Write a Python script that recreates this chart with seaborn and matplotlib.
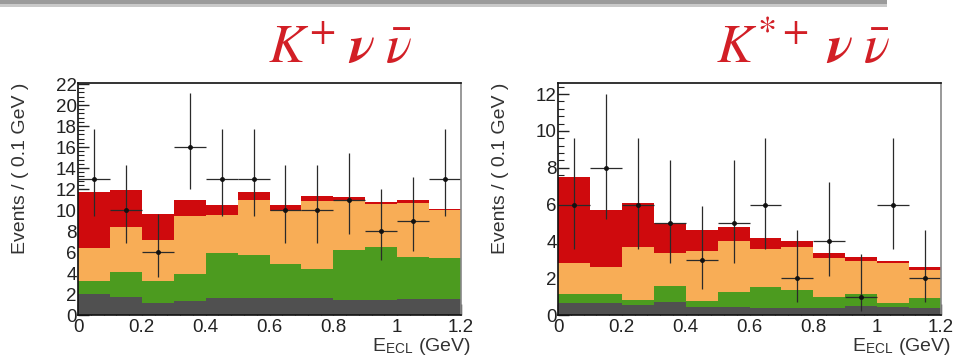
import numpy as np
import pandas as pd
import matplotlib
matplotlib.use("Agg")
import matplotlib.pyplot as plt
from matplotlib.patches import Rectangle
from matplotlib.ticker import MultipleLocator, AutoMinorLocator, FixedLocator
import seaborn as sns

# Binning of the E_ECL distribution (GeV)
bin_edges = [0.0, 0.1, 0.2, 0.3, 0.4, 0.5, 0.6, 0.7, 0.8, 0.9, 1.0, 1.1, 1.2]
components = ["other", "green", "orange", "red"]
component_colors = {"other": "#505050", "green": "#4c9b1f",
                    "orange": "#f8ad56", "red": "#cf0a0d"}

# K+ nu nubar channel: stacked expectations per 0.1 GeV bin
kp_other = [2.0, 1.7, 1.1, 1.3, 1.6, 1.6, 1.6, 1.6, 1.45, 1.4, 1.5, 1.5]
kp_green = [1.2, 2.4, 2.1, 2.6, 4.3, 4.1, 3.3, 2.75, 4.75, 5.1, 4.0, 3.9]
kp_orange = [3.2, 4.3, 3.9, 5.5, 3.6, 5.25, 5.0, 6.55, 4.7, 4.05, 5.2, 4.6]
kp_red = [5.3, 3.5, 2.5, 1.6, 1.0, 0.75, 0.6, 0.4, 0.3, 0.25, 0.25, 0.1]
kp_data = [13, 10, 6, 16, 13, 13, 10, 10, 11, 8, 9, 13]
kp_err_lo = [3.6, 3.1, 2.4, 4.0, 3.6, 3.6, 3.1, 3.1, 3.3, 2.8, 2.9, 3.6]
kp_err_hi = [4.7, 4.3, 3.6, 5.1, 4.7, 4.7, 4.3, 4.3, 4.4, 4.0, 4.1, 4.7]

# K*+ nu nubar channel
ks_other = [0.63, 0.63, 0.54, 0.72, 0.42, 0.45, 0.4, 0.4, 0.4, 0.5, 0.42, 0.4]
ks_green = [0.51, 0.51, 0.26, 0.88, 0.34, 0.82, 1.14, 0.96, 0.6, 0.64, 0.21, 0.54]
ks_orange = [1.7, 1.46, 2.87, 1.75, 2.74, 2.73, 2.06, 2.34, 2.08, 1.81, 2.21, 1.5]
ks_red = [4.66, 3.1, 2.39, 1.65, 1.1, 0.76, 0.56, 0.33, 0.3, 0.22, 0.11, 0.15]
ks_data = [6, 8, 6, 5, 3, 5, 6, 2, 4, 1, 6, 2]
ks_err_lo = [2.4, 2.8, 2.4, 2.2, 1.6, 2.2, 2.4, 1.3, 1.9, 0.8, 2.4, 1.3]
ks_err_hi = [3.6, 4.0, 3.6, 3.4, 2.9, 3.4, 3.6, 2.6, 3.2, 2.3, 3.6, 2.6]

x_ticks = [0.0, 0.2, 0.4, 0.6, 0.8, 1.0, 1.2]
x_tick_labels = ["0", "0.2", "0.4", "0.6", "0.8", "1", "1.2"]

sns.set_theme(style="white")
plt.rcParams["font.family"] = ["Liberation Sans", "DejaVu Sans"]
plt.rcParams["mathtext.fontset"] = "stix"

fig = plt.figure(figsize=(9.57, 3.58), dpi=100)


def draw_panel(ax, layers, data, lo, hi, ymax, title, title_x):
    centers = [(a + b) / 2 for a, b in zip(bin_edges[:-1], bin_edges[1:])]
    frames = []
    for name, vals in zip(components, layers):
        frames.append(pd.DataFrame({"E": centers, "w": vals, "comp": name}))
    df = pd.concat(frames, ignore_index=True)
    # seaborn puts the first hue level on top of the stack
    sns.histplot(data=df, x="E", weights="w", hue="comp",
                 hue_order=components[::-1], palette=component_colors,
                 bins=bin_edges, multiple="stack", element="step",
                 fill=True, alpha=1.0, linewidth=0, legend=False, ax=ax)
    ax.errorbar(centers, data, xerr=0.05, yerr=[lo, hi], fmt="o",
                color="#111111", ecolor="#2a2a2a", markersize=2.5,
                elinewidth=0.9, capsize=0)
    ax.set_xlim(0, 1.2)
    ax.set_ylim(0, ymax)
    ax.xaxis.set_major_locator(FixedLocator(x_ticks))
    ax.set_xticklabels(x_tick_labels)
    ax.xaxis.set_minor_locator(AutoMinorLocator(5))
    ax.yaxis.set_major_locator(MultipleLocator(2))
    ax.yaxis.set_minor_locator(AutoMinorLocator(5))
    ax.tick_params(axis="both", which="both", direction="in",
                   left=True, bottom=True, top=False, right=False,
                   labelsize=13.5, colors="#222222")
    ax.tick_params(axis="y", pad=1)
    ax.tick_params(axis="x", pad=3)
    ax.tick_params(which="major", length=8, width=1.0)
    ax.tick_params(which="minor", length=4, width=0.8)
    for sp in ax.spines.values():
        sp.set_color("#111111")
        sp.set_linewidth(1.2)
    ax.spines["right"].set_color("#888888")
    ax.set_ylabel("Events / ( 0.1 GeV )", loc="top", fontsize=14,
                  color="#333333", labelpad=19)
    ax.set_xlabel(r"E$_{\mathregular{ECL}}$ (GeV)", loc="right", fontsize=14,
                  color="#333333", labelpad=0)
    ax.xaxis.set_label_coords(1.025, -0.092, transform=ax.transAxes)
    fig.text(title_x, 1 - 63 / 358,
             title, ha="center", va="baseline",
             fontsize=39, color="#d21f26")


ax1 = fig.add_axes([78 / 957, 43 / 358, 383 / 957, 232 / 358])
draw_panel(ax1, [kp_other, kp_green, kp_orange, kp_red], kp_data,
           kp_err_lo, kp_err_hi, 22.1,
           r"$\boldsymbol{K^{+}\;\nu\;\bar{\nu}}$", 340 / 957)

ax2 = fig.add_axes([558 / 957, 43 / 358, 383 / 957, 232 / 358])
draw_panel(ax2, [ks_other, ks_green, ks_orange, ks_red], ks_data,
           ks_err_lo, ks_err_hi, 12.6,
           r"$\boldsymbol{K^{*+}\;\nu\;\bar{\nu}}$", 803 / 957)

# header rule of the slide
fig.add_artist(Rectangle((0, 1 - 4 / 358), 887 / 957, 4 / 358,
                         transform=fig.transFigure, color="#9b9b9b", lw=0))
fig.add_artist(Rectangle((0, 1 - 7 / 358), 887 / 957, 3 / 358,
                         transform=fig.transFigure, color="#c9c9c9", lw=0))

fig.savefig("out.png", dpi=100)
